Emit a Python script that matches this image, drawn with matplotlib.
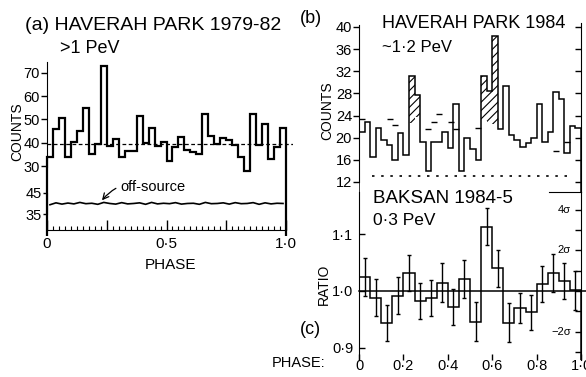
import numpy as np
import matplotlib.pyplot as plt

plt.rcParams['font.family'] = ['Liberation Sans', 'DejaVu Sans']
plt.rcParams['hatch.linewidth'] = 0.8

# (a) Haverah Park 1979-82, >1 PeV : counts in 40 phase bins
counts_a = [34, 46, 50.5, 34, 40.5, 45, 55, 35, 39.5, 73,
            38.5, 41.5, 34, 36.5, 36.5, 51.5, 40, 46.5, 38.5, 40.5,
            32, 38, 42.5, 37, 36, 35, 52.5, 43, 39.5, 42,
            41, 39, 34, 28, 52.5, 39, 48, 33, 38, 46.5]
mean_a = 39.5
offsrc_a = [39.4, 40.3, 39.7, 40.2, 39.8, 40.5, 39.9, 40.1, 39.6, 40.5,
            40.0, 39.7, 40.4, 39.8, 40.0, 40.3, 39.6, 40.5, 39.8, 40.1,
            39.9, 40.4, 39.7, 40.0, 40.1, 39.6, 40.5, 39.9, 40.0, 40.3,
            39.7, 40.4, 39.9, 40.0, 40.4, 39.6, 40.3, 39.8, 40.1, 40.0]

# (b) Haverah Park 1984, ~1.2 PeV : counts in 40 phase bins
counts_b = [21, 22.8, 16.6, 21.8, 19.6, 18.7, 16, 20.9, 16.9, 31.1,
            27.8, 19.3, 13.9, 19.3, 19.3, 21, 18.2, 26, 14, 20,
            18, 16, 31.1, 28.4, 38.3, 21.5, 29.3, 20.5, 19.6, 18.3,
            19, 20, 26.1, 19.3, 21, 28.2, 27, 17.2, 22.2, 21.7]
hatch_bins_b = [9, 10, 22, 23, 24]
hatch_base_b = [22.6, 23.8, 23.0, 22.6, 22.4]
exp_bins_b = [0, 5, 6, 12, 13, 14, 16, 17, 21, 35, 37]
exp_vals_b = [23.4, 23.3, 22.3, 21.5, 22.8, 24.2, 22.8, 21.6, 21.8, 17.6, 19.3]
floor_b = 13.1

# (c) Baksan 1984-5, 0.3 PeV : on/off ratio in 20 phase bins
ratio_c = [1.025, 0.988, 0.943, 0.992, 1.032, 0.982, 0.988, 1.015, 0.972, 1.021,
           0.946, 1.114, 1.040, 0.944, 0.970, 0.962, 1.012, 1.032, 1.018, 1.001]
err_c = [0.034, 0.033, 0.032, 0.033, 0.032, 0.032, 0.032, 0.034, 0.032, 0.033,
         0.034, 0.033, 0.033, 0.034, 0.027, 0.031, 0.032, 0.033, 0.032, 0.034]
sigma_ticks = [0.892, 0.928, 0.964, 1.0, 1.036, 1.072, 1.108, 1.144]
sigma_text = [(1.144, '4σ'), (1.072, '2σ'), (0.928, '−2σ')]

W, H = 586, 377
fig = plt.figure(figsize=(W / 100, H / 100), dpi=100)


def box(x0, y0, x1, y1):
    return [x0 / W, 1 - y1 / H, (x1 - x0) / W, (y1 - y0) / H]


def txt(x, y, s, **kw):
    fig.text(x / W, 1 - y / H, s, **kw)


def bare(ax, keep=()):
    ax.patch.set_visible(False)
    for side in ['top', 'right', 'bottom', 'left']:
        ax.spines[side].set_visible(side in keep)


edges_a = np.linspace(0, 1, len(counts_a) + 1)
cent_a = (edges_a[:-1] + edges_a[1:]) / 2
xr_a = (0, 246 / 239)

# // PANEL (a) //
ax_a = fig.add_axes(box(47, 62, 293, 170))
bare(ax_a, keep=['left'])
ax_a.set_xlim(*xr_a)
ax_a.set_ylim(28.3, 74.7)
ax_a.spines['left'].set_bounds(29.5, 74.7)
ax_a.stairs(counts_a, edges_a, color='k', lw=1.6, clip_on=False)
ax_a.axhline(mean_a, color='k', lw=0.9, ls=(0, (3, 2)))
ax_a.set_xticks([])
ax_a.set_yticks([30, 40, 50, 60, 70])
ax_a.tick_params(axis='y', labelsize=10.5, length=4, width=1, pad=1)

ax_off = fig.add_axes(box(47, 190, 293, 216))
bare(ax_off, keep=['left'])
ax_off.set_xlim(*xr_a)
ax_off.set_ylim(34.05, 46.4)
ax_off.spines['left'].set_bounds(35, 45)
ax_off.plot(cent_a, offsrc_a, color='k', lw=1.2)
ax_off.set_xticks([])
ax_off.set_yticks([35, 45])
ax_off.tick_params(axis='y', labelsize=10.5, length=3, width=1, pad=1)
ax_off.annotate('off-source', xy=(0.23, 41.5), xytext=(0.305, 48.0),
                fontsize=10.5, va='center', annotation_clip=False,
                arrowprops=dict(arrowstyle='->', lw=0.9, color='k',
                                connectionstyle='arc3,rad=0.35',
                                shrinkA=1, shrinkB=0))

ax_ph = fig.add_axes(box(47, 205, 293, 230))
bare(ax_ph, keep=['bottom'])
ax_ph.set_xlim(*xr_a)
ax_ph.spines['bottom'].set_bounds(0, 1)
ax_ph.set_yticks([])
ax_ph.set_xticks([0, 0.25, 0.5, 0.75, 1.0], ['0', '', '0·5', '', '1·0'])
ax_ph.set_xticks(edges_a, minor=True)
ax_ph.tick_params(axis='x', which='major', direction='in', length=7, width=1,
                  labelsize=11, pad=5)
ax_ph.tick_params(axis='x', which='minor', direction='in', length=3, width=0.8)
ax_ph.set_xlabel('PHASE', fontsize=11, labelpad=5)

txt(25, 30, '(a) HAVERAH PARK 1979-82', fontsize=14, va='baseline')
txt(60, 53, '>1 PeV', fontsize=13, va='baseline')
txt(17, 132, 'COUNTS', fontsize=10, rotation=90, ha='center', va='center')

# // PANEL (b) //
edges_b = np.linspace(0, 1, len(counts_b) + 1)
cent_b = (edges_b[:-1] + edges_b[1:]) / 2
ax_b = fig.add_axes(box(359, 23, 581, 192))
bare(ax_b, keep=['left'])
ax_b.set_xlim(0, 1)
ax_b.set_ylim(10.19, 40.72)
ax_b.spines['left'].set_bounds(12, 40.36)
ax_b.stairs(counts_b, edges_b, color='k', lw=1.1)
ax_b.bar(cent_b[hatch_bins_b], np.array(counts_b)[hatch_bins_b] - np.array(hatch_base_b),
         bottom=hatch_base_b, width=edges_b[1], fill=False, hatch='////',
         edgecolor='k', lw=0)
ax_b.plot(cent_b[exp_bins_b], exp_vals_b, ls='none', marker='_', ms=4, mew=1, color='k')
ax_b.axhline(floor_b, xmin=0.06, xmax=0.94, color='k', lw=1.2, ls=(0, (1.5, 4)))
ax_b.set_xticks([])
ax_b.set_yticks(range(12, 41, 4))
ax_b.tick_params(axis='y', labelsize=10.5, length=4, width=1, pad=1)
sec_b = ax_b.secondary_yaxis('right')
sec_b.set_yticks(range(12, 41, 4))
sec_b.tick_params(axis='y', direction='in', length=4, width=1, labelright=False)

txt(300, 23, '(b)', fontsize=13, va='baseline')
txt(382, 28, 'HAVERAH PARK 1984', fontsize=13, va='baseline')
txt(382, 52, '~1·2 PeV', fontsize=12, va='baseline')
txt(327, 111, 'COUNTS', fontsize=10, rotation=90, ha='center', va='center')

# // PANEL (c) //
edges_c = np.linspace(0, 1, len(ratio_c) + 1)
cent_c = (edges_c[:-1] + edges_c[1:]) / 2
ax_c = fig.add_axes(box(359, 192, 581, 360))
bare(ax_c, keep=['left', 'top'])
ax_c.set_xlim(0, 1)
ax_c.set_ylim(0.878, 1.175)
ax_c.spines['top'].set_bounds(0.855, 1.0)
ax_c.stairs(ratio_c, edges_c, color='k', lw=1.1)
ax_c.errorbar(cent_c, ratio_c, yerr=err_c, fmt='none', ecolor='k', elinewidth=1,
              capsize=1.5, capthick=1)
ax_c.axhline(1.0, xmin=0, xmax=1.025, color='k', lw=1.1, clip_on=False)
ax_c.set_yticks([0.9, 1.0, 1.1], ['0·9', '1·0', '1·1'])
ax_c.set_xticks([0, 0.2, 0.4, 0.6, 0.8, 1.0], ['0', '0·2', '0·4', '0·6', '0·8', '1·0'])
ax_c.tick_params(axis='y', direction='in', labelsize=10.5, length=4, width=1, pad=4)
ax_c.tick_params(axis='x', direction='in', labelsize=10.5, length=4, width=1, pad=-1)
sec_c = ax_c.secondary_yaxis('right')
sec_c.set_yticks(sigma_ticks)
sec_c.tick_params(axis='y', direction='in', length=4, width=1, labelright=False)
for yv, lab in sigma_text:
    ax_c.text(0.955, yv, lab, transform=ax_c.get_yaxis_transform(),
              ha='right', va='center', fontsize=8)

txt(373, 203, 'BAKSAN 1984-5', fontsize=13.5, va='baseline')
txt(373, 225, '0·3 PeV', fontsize=12.5, va='baseline')
txt(324, 284, 'RATIO', fontsize=10, rotation=90, ha='center', va='center')
txt(300, 334, '(c)', fontsize=13, va='baseline')
txt(272, 367, 'PHASE:', fontsize=10.5, va='baseline')

fig.savefig('out.png', dpi=100)
